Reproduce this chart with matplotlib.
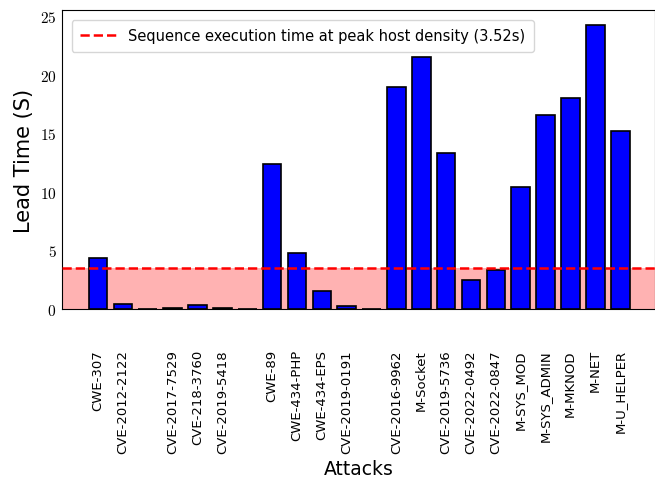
import matplotlib
matplotlib.use("Agg")
import matplotlib.pyplot as plt
from matplotlib.ticker import FuncFormatter

# nama serangan (string kosong = celah antar kelompok)
attacks = ["CWE-307", "CVE-2012-2122", "",
           "CVE-2017-7529", "CVE-218-3760", "CVE-2019-5418", "",
           "CWE-89", "CWE-434-PHP", "CWE-434-EPS", "CVE-2019-0191", "",
           "CVE-2016-9962", "M-Socket", "CVE-2019-5736", "CVE-2022-0492",
           "CVE-2022-0847", "M-SYS_MOD", "M-SYS_ADMIN", "M-MKNOD", "M-NET",
           "M-U_HELPER"]
lead_time = [4.35, 0.46, 0.0,
             0.05, 0.34, 0.05, 0.0,
             12.37, 4.81, 1.51, 0.23, 0.0,
             18.94, 21.53, 13.31, 2.51,
             3.33, 10.38, 16.59, 18.04, 24.27,
             15.22]
threshold = 3.52

plt.rcParams["mathtext.fontset"] = "cm"

fig = plt.figure(figsize=(6.55, 4.85), dpi=100)
ax = fig.add_axes([0.0947, 0.361, 0.9053, 0.616])

x = list(range(len(attacks)))
ax.axhspan(0, threshold, color="red", alpha=0.3, linewidth=0, zorder=0)
ax.bar(x, lead_time, width=0.75, color="blue", edgecolor="black",
       linewidth=1.2, zorder=2)
ax.axhline(threshold, color="red", linestyle="--", linewidth=1.8, zorder=3,
           label="Sequence execution time at peak host density (3.52s)")

ax.set_xlim(-1.45, 22.4)
ax.set_ylim(0, 25.5)
ax.set_xticks(x)
ax.set_xticklabels(attacks, rotation=90, fontsize=9.5)
ax.set_yticks([0, 5, 10, 15, 20, 25])
ax.yaxis.set_major_formatter(FuncFormatter(lambda v, p: "$%d$" % v))
ax.tick_params(axis="y", length=0, labelsize=11, pad=4)
ax.tick_params(axis="x", length=0, pad=29)

ax.set_ylabel("Lead Time (S)", fontsize=15)
ax.set_xlabel("Attacks", fontsize=13.5, labelpad=4)
ax.legend(loc="upper left", fontsize=10.5, handlelength=2.5,
          borderpad=0.6, borderaxespad=0.65)

plt.savefig("out.png", dpi=100)
